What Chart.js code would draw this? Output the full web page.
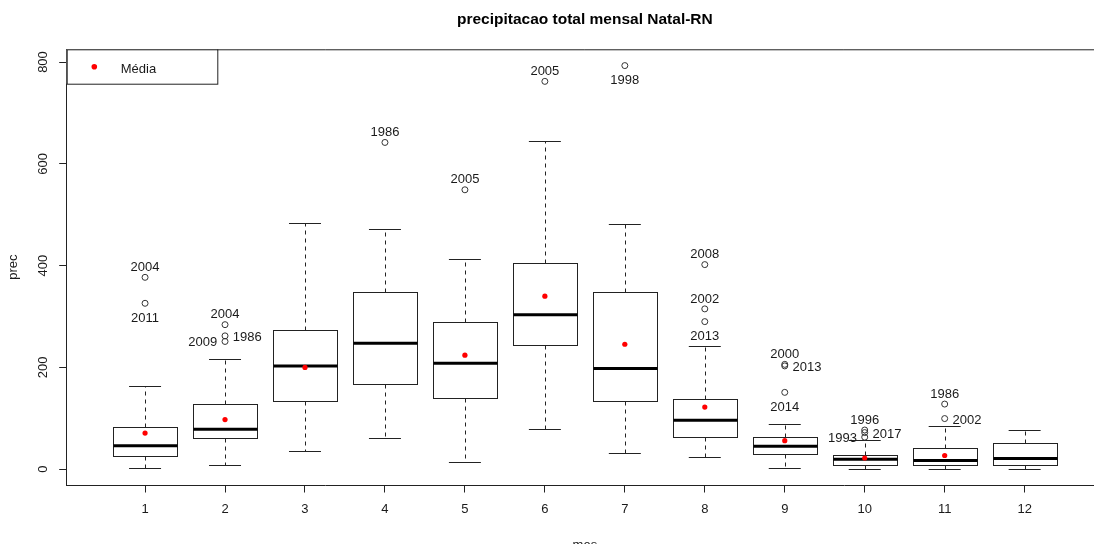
<!DOCTYPE html>
<html>
<head>
<meta charset="utf-8">
<script src="https://cdn.jsdelivr.net/npm/chart.js@4.4.1/dist/chart.umd.min.js"></script>
<style>
html, body { margin: 0; padding: 0; overflow: hidden; background: #fff; width: 1094px; height: 544px; }
canvas { display: block; }
</style>
</head>
<body>
<canvas id="c" width="1107" height="556" style="width:1107px;height:556px"></canvas>
<script>
// ---- data ----
const months      = [1, 2, 3, 4, 5, 6, 7, 8, 9, 10, 11, 12];
const whiskerLow  = [3, 8, 35, 61.5, 14, 79, 32, 24, 2, 0.6, 0.6, 0.6];
const q1          = [25.5, 61, 134, 167, 139.5, 245, 134, 64, 29.5, 8, 8, 8];
const medians     = [46, 78.5, 203, 247.5, 208, 303.7, 198, 96, 45, 19.6, 17, 21];
const q3          = [82, 128, 274, 348, 289, 406, 348, 138.7, 63, 27.5, 41, 51.3];
const whiskerHigh = [163, 217, 484, 471, 413.7, 644, 482.5, 243, 88, 57, 84.5, 76.6];
const means       = [71, 97.5, 200, null, 224, 340, 245.5, 122, 56, 22, 27, null];

const outlierMonth = [1, 1, 2, 2, 2, 4, 5, 6, 7, 8, 8, 8, 9, 9, 9, 10, 10, 10, 11, 11];
const outlierValue = [377, 326, 284, 262, 251, 642, 549, 762, 793, 402, 315, 290, 206, 203, 151, 77, 72, 63, 128, 99.5];
const outlierYear  = ["2004", "2011", "2004", "1986", "2009", "1986", "2005", "2005", "1998", "2008", "2002", "2013", "2000", "2013", "2014", "1996", "2017", "1993", "1986", "2002"];
const outlierSide  = ["above", "below", "above", "right", "left", "above", "above", "above", "below", "above", "above", "below", "above", "right", "below", "above", "right", "left", "above", "right"];

const yTicks = [0, 200, 400, 600, 800];
const xTicks = months;

const titleText = "precipitacao total mensal Natal-RN";
const xTitle = "mes";
const yTitle = "prec";
const legendLabel = "Média";

// ---- styles ----
const FONT = "'Liberation Sans', Arial, Helvetica, sans-serif";
const LINE = "#222";
const TEXT = "#1a1a1a";
const BOX_HALF = 0.4;
const CAP_HALF = 0.2;

const boxPlugin = {
  id: 'boxplot',
  beforeDatasetsDraw(chart) {
    const { ctx, scales: { x, y }, chartArea: a } = chart;
    ctx.save();
    // plot frame (top / right); left & bottom are the axis borders
    ctx.strokeStyle = LINE;
    ctx.lineWidth = 1;
    ctx.beginPath();
    ctx.moveTo(a.left, a.top + 0.5);
    ctx.lineTo(a.right, a.top + 0.5);
    ctx.lineTo(a.right, a.bottom);
    ctx.stroke();

    months.forEach((m, i) => {
      const xc = Math.round(x.getPixelForValue(m)) + 0.5;
      const xl = x.getPixelForValue(m - BOX_HALF);
      const xr = x.getPixelForValue(m + BOX_HALF);
      const cl = x.getPixelForValue(m - CAP_HALF);
      const cr = x.getPixelForValue(m + CAP_HALF);
      const yLo = Math.round(y.getPixelForValue(whiskerLow[i])) + 0.5;
      const yQ1 = Math.round(y.getPixelForValue(q1[i])) + 0.5;
      const yMd = y.getPixelForValue(medians[i]);
      const yQ3 = Math.round(y.getPixelForValue(q3[i])) + 0.5;
      const yHi = Math.round(y.getPixelForValue(whiskerHigh[i])) + 0.5;

      ctx.strokeStyle = LINE;
      ctx.lineWidth = 1;
      // dashed whiskers
      ctx.setLineDash([4, 4]);
      ctx.beginPath();
      ctx.moveTo(xc, yQ3); ctx.lineTo(xc, yHi);
      ctx.moveTo(xc, yQ1); ctx.lineTo(xc, yLo);
      ctx.stroke();
      ctx.setLineDash([]);
      // staples
      ctx.beginPath();
      ctx.moveTo(cl, yHi); ctx.lineTo(cr, yHi);
      ctx.moveTo(cl, yLo); ctx.lineTo(cr, yLo);
      ctx.stroke();
      // box
      ctx.strokeRect(Math.round(xl) + 0.5, yQ3, Math.round(xr) - Math.round(xl), yQ1 - yQ3);
      // median
      ctx.strokeStyle = "#000";
      ctx.lineWidth = 3;
      ctx.beginPath();
      ctx.moveTo(Math.round(xl) + 0.5, yMd); ctx.lineTo(Math.round(xr) + 0.5, yMd);
      ctx.stroke();
    });
    ctx.restore();
  },
  afterDatasetsDraw(chart) {
    const { ctx, scales: { x, y } } = chart;
    ctx.save();
    ctx.fillStyle = TEXT;
    ctx.font = `13px ${FONT}`;
    ctx.textBaseline = 'alphabetic';
    outlierYear.forEach((lab, i) => {
      const px = x.getPixelForValue(outlierMonth[i]);
      const py = y.getPixelForValue(outlierValue[i]);
      const side = outlierSide[i];
      if (side === 'above') { ctx.textAlign = 'center'; ctx.fillText(lab, px, py - 6.3); }
      else if (side === 'below') { ctx.textAlign = 'center'; ctx.fillText(lab, px, py + 18.4); }
      else if (side === 'right') { ctx.textAlign = 'left'; ctx.fillText(lab, px + 7.8, py + 5); }
      else { ctx.textAlign = 'right'; ctx.fillText(lab, px - 7.8, py + 5); }
    });
    ctx.restore();
  },
  afterDraw(chart) {
    const { ctx, chartArea: a } = chart;
    ctx.save();
    const w = 150.6, h = 34.4;
    ctx.fillStyle = '#fff';
    ctx.fillRect(a.left, a.top, w, h);
    ctx.strokeStyle = LINE;
    ctx.lineWidth = 1;
    ctx.strokeRect(a.left + 0.5, a.top + 0.5, w, h);
    ctx.fillStyle = '#ff0000';
    ctx.beginPath();
    ctx.arc(a.left + 27.6, a.top + 17.4, 2.8, 0, Math.PI * 2);
    ctx.fill();
    ctx.fillStyle = TEXT;
    ctx.font = `13px ${FONT}`;
    ctx.textAlign = 'left';
    ctx.textBaseline = 'alphabetic';
    ctx.fillText(legendLabel, a.left + 54, a.top + 24);
    ctx.restore();
  }
};

new Chart(document.getElementById('c'), {
  type: 'scatter',
  data: {
    datasets: [
      {
        label: 'outliers',
        data: outlierMonth.map((m, i) => ({ x: m, y: outlierValue[i] })),
        pointStyle: 'circle',
        pointRadius: 3,
        pointBorderWidth: 1,
        pointBorderColor: '#333',
        pointBackgroundColor: 'rgba(0,0,0,0)',
        pointHoverRadius: 3
      },
      {
        label: legendLabel,
        data: months.map((m, i) => ({ x: m, y: means[i] })).filter(p => p.y !== null),
        pointStyle: 'circle',
        pointRadius: 2.6,
        pointBorderWidth: 0,
        pointBackgroundColor: '#ff0000',
        pointHoverRadius: 2.6
      }
    ]
  },
  options: {
    responsive: false,
    animation: false,
    devicePixelRatio: 1,
    layout: { padding: 0 },
    plugins: {
      legend: { display: false },
      tooltip: { enabled: false },
      title: {
        display: true,
        text: titleText,
        fullSize: false,
        color: '#000',
        font: { family: FONT, size: 15.5, weight: 'bold' },
        padding: { top: 10.7, bottom: 20 }
      }
    },
    scales: {
      x: {
        type: 'linear',
        min: 0.02,
        max: 12.98,
        afterBuildTicks(s) { s.ticks = xTicks.map(v => ({ value: v })); },
        afterFit(s) { s.height = 71; },
        ticks: {
          color: TEXT,
          font: { family: FONT, size: 13 },
          padding: 9,
          maxRotation: 0,
          autoSkip: false,
          callback: v => String(v)
        },
        grid: { drawOnChartArea: false, drawTicks: true, tickLength: 7.5, color: LINE },
        border: { display: true, color: LINE, width: 1 },
        title: {
          display: true,
          text: xTitle,
          color: TEXT,
          font: { family: FONT, size: 13 },
          padding: { top: 0, bottom: 3.2 }
        }
      },
      y: {
        type: 'linear',
        min: -31,
        max: 825,
        afterBuildTicks(s) { s.ticks = yTicks.map(v => ({ value: v })); },
        afterFit(s) { s.width = 66.7; },
        ticks: {
          color: TEXT,
          font: { family: FONT, size: 13 },
          minRotation: 90,
          maxRotation: 90,
          crossAlign: 'center',
          padding: 5,
          autoSkip: false,
          callback: v => String(v)
        },
        grid: { drawOnChartArea: false, drawTicks: true, tickLength: 7.5, color: LINE },
        border: { display: true, color: LINE, width: 1 },
        title: {
          display: true,
          text: yTitle,
          color: TEXT,
          font: { family: FONT, size: 13 },
          padding: { top: 6, bottom: 0 }
        }
      }
    }
  },
  plugins: [boxPlugin]
});
</script>
</body>
</html>
